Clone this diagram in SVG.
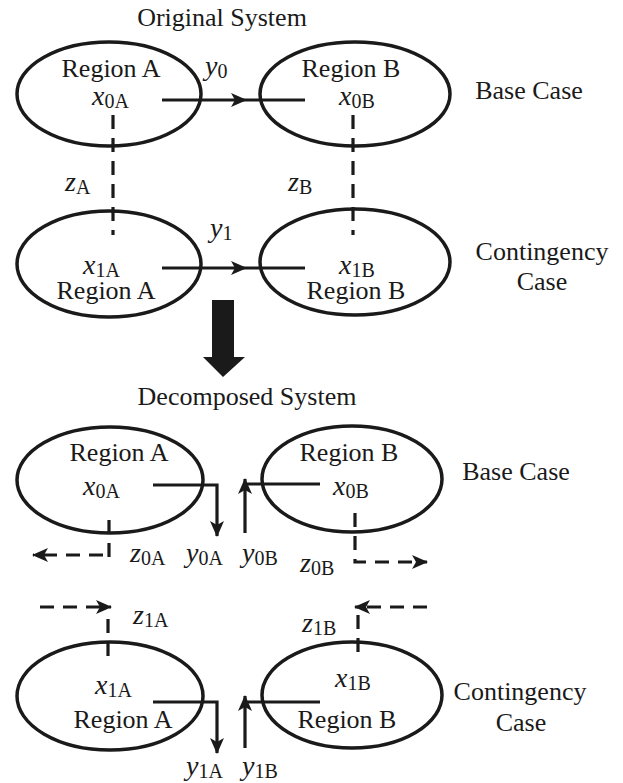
<svg xmlns="http://www.w3.org/2000/svg" width="623" height="783" viewBox="0 0 623 783">
<defs>
<style>
.e{fill:none;stroke:#1a1a1a;stroke-width:3.5}
.l{fill:none;stroke:#1a1a1a;stroke-width:3.2}
.d{fill:none;stroke:#1a1a1a;stroke-width:3.2;stroke-dasharray:14 9}
text{font-family:"Liberation Serif","Times New Roman",serif;font-size:26px;fill:#1a1a1a}
.c{text-anchor:middle}
.i{font-style:italic;font-size:28px}
.s{font-size:20px;font-style:normal}
</style>
<marker id="ah" markerUnits="userSpaceOnUse" markerWidth="16" markerHeight="14" viewBox="0 0 16 14" refX="15" refY="7" orient="auto">
<path d="M0,0 L16,7 L0,14 L4,7 z" fill="#1a1a1a"/>
</marker>
</defs>
<text class="c" x="222" y="26">Original System</text>
<text class="c" x="247" y="405">Decomposed System</text>
<text class="c" x="529" y="99">Base Case</text>
<text class="c" x="542" y="260">Contingency</text>
<text class="c" x="542" y="290">Case</text>
<text class="c" x="516" y="480">Base Case</text>
<text class="c" x="520" y="700">Contingency</text>
<text class="c" x="521" y="731">Case</text>
<g id="orig-A0">
<ellipse class="e" cx="109" cy="94" rx="92" ry="52"/>
<text class="c" x="111" y="77">Region A</text>
<text x="92" y="105"><tspan class="i">x</tspan><tspan class="s" dy="3">0A</tspan></text>
</g>
<g id="orig-B0">
<ellipse class="e" cx="355" cy="94" rx="95" ry="52"/>
<text class="c" x="351" y="77">Region B</text>
<text x="339" y="105"><tspan class="i">x</tspan><tspan class="s" dy="3">0B</tspan></text>
</g>
<g id="orig-A1">
<ellipse class="e" cx="109" cy="264" rx="92" ry="53"/>
<text x="83" y="274"><tspan class="i">x</tspan><tspan class="s" dy="3">1A</tspan></text>
<text class="c" x="106" y="299">Region A</text>
</g>
<g id="orig-B1">
<ellipse class="e" cx="355" cy="262" rx="95" ry="53"/>
<text x="339" y="274"><tspan class="i">x</tspan><tspan class="s" dy="3">1B</tspan></text>
<text class="c" x="356" y="299">Region B</text>
</g>
<g id="dec-A0">
<ellipse class="e" cx="110" cy="480" rx="93" ry="53"/>
<text class="c" x="119" y="461">Region A</text>
<text x="83" y="495"><tspan class="i">x</tspan><tspan class="s" dy="3">0A</tspan></text>
</g>
<g id="dec-B0">
<ellipse class="e" cx="352" cy="479" rx="90" ry="53"/>
<text class="c" x="349" y="461">Region B</text>
<text x="333" y="495"><tspan class="i">x</tspan><tspan class="s" dy="3">0B</tspan></text>
</g>
<g id="dec-A1">
<ellipse class="e" cx="110" cy="696" rx="93" ry="54"/>
<text x="95" y="694"><tspan class="i">x</tspan><tspan class="s" dy="3">1A</tspan></text>
<text class="c" x="123" y="728">Region A</text>
</g>
<g id="dec-B1">
<ellipse class="e" cx="352" cy="695" rx="90" ry="53"/>
<text x="335" y="687"><tspan class="i">x</tspan><tspan class="s" dy="3">1B</tspan></text>
<text class="c" x="347" y="728">Region B</text>
</g>
<g id="connectors">
<path class="l" d="M162,100 L246,100 L305,100" marker-mid="url(#ah)"/>
<path class="l" d="M162,268 L246,268 L305,268" marker-mid="url(#ah)"/>
<path class="d" d="M113,115 V235"/>
<path class="d" d="M353,115 V235"/>
<polygon points="212,300 234,300 234,357 245,357 223,377 203,357 212,357" fill="#1a1a1a"/>
<path class="l" d="M153,485 H217 V536" marker-end="url(#ah)"/>
<path class="l" d="M320,484 H245"/>
<path class="l" d="M245,533 V479" marker-end="url(#ah)"/>
<path class="l" d="M153,702 H217 V753" marker-end="url(#ah)"/>
<path class="l" d="M320,702 H245"/>
<path class="l" d="M245,748 V696" marker-end="url(#ah)"/>
<path class="d" d="M109,520 V563"/>
<path class="d" d="M103,555 H33" marker-end="url(#ah)"/>
<path class="d" d="M355,513 V562 H427" marker-end="url(#ah)"/>
<path class="d" d="M40,607 H111" marker-end="url(#ah)"/>
<path class="d" d="M108,619 V662"/>
<path class="d" d="M427,607 H355" marker-end="url(#ah)"/>
<path class="d" d="M358,615 V657"/>
</g>
<text x="205" y="75"><tspan class="i">y</tspan><tspan class="s" dy="3">0</tspan></text>
<text x="210" y="237"><tspan class="i">y</tspan><tspan class="s" dy="3">1</tspan></text>
<text x="65" y="191"><tspan class="i">z</tspan><tspan class="s" dy="3">A</tspan></text>
<text x="288" y="191"><tspan class="i">z</tspan><tspan class="s" dy="3">B</tspan></text>
<text x="130" y="562"><tspan class="i">z</tspan><tspan class="s" dy="3">0A</tspan></text>
<text x="186" y="562"><tspan class="i">y</tspan><tspan class="s" dy="3">0A</tspan></text>
<text x="242" y="562"><tspan class="i">y</tspan><tspan class="s" dy="3">0B</tspan></text>
<text x="300" y="572"><tspan class="i">z</tspan><tspan class="s" dy="3">0B</tspan></text>
<text x="133" y="624"><tspan class="i">z</tspan><tspan class="s" dy="3">1A</tspan></text>
<text x="302" y="632"><tspan class="i">z</tspan><tspan class="s" dy="3">1B</tspan></text>
<text x="186" y="775"><tspan class="i">y</tspan><tspan class="s" dy="3">1A</tspan></text>
<text x="242" y="775"><tspan class="i">y</tspan><tspan class="s" dy="3">1B</tspan></text>
</svg>
